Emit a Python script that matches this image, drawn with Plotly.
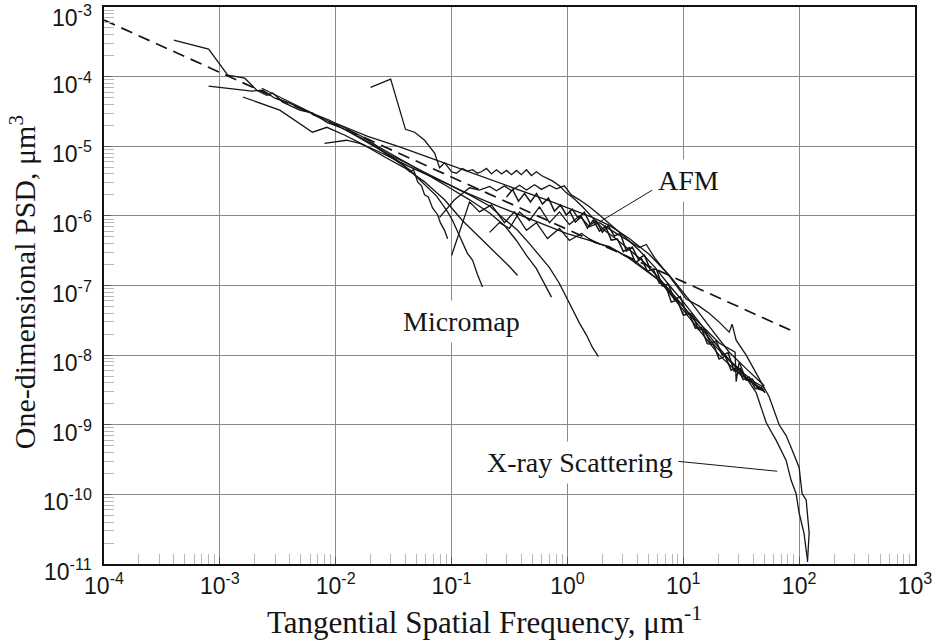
import math
import plotly.graph_objects as go

# ---- power-law fit (dashed) ----
fit_x = [1e-4, 94]
fit_y = [6.5e-4, 2.1e-8]

# ---- Micromap profiles ----
mm1_x = [4.0e-4, 8.0e-4, 1.17e-3, 1.64e-3, 2.08e-3, 2.54e-3, 2.86e-3, 3.49e-3, 4.89e-3, 6.3e-3,
         8.4e-3, 1.15e-2, 1.61e-2, 2.26e-2, 3.1e-2, 3.93e-2, 4.35e-2, 4.7e-2, 5.1e-2, 5.5e-2,
         5.85e-2, 6.3e-2, 6.85e-2, 7.6e-2, 8.0e-2, 8.7e-2, 9.25e-2]
mm1_y = [3.35e-4, 2.48e-4, 1.05e-4, 9.5e-5, 6.4e-5, 5.4e-5, 5.8e-5, 4.3e-5, 3.3e-5, 3.0e-5,
         2.2e-5, 1.8e-5, 1.35e-5, 9.8e-6, 7.0e-6, 5.23e-6, 4.3e-6, 4.6e-6, 3.08e-6, 2.7e-6,
         2.0e-6, 1.87e-6, 1.3e-6, 1.03e-6, 8.0e-7, 6.2e-7, 4.7e-7]

mm2_x = [8.0e-4, 1.89e-3, 2.35e-3, 2.98e-3, 4.0e-3, 5.4e-3, 7.28e-3, 9.8e-3, 1.32e-2, 1.78e-2,
         2.4e-2, 3.23e-2, 4.35e-2, 5.3e-2, 6.46e-2, 7.4e-2, 8.4e-2, 9.25e-2, 1.02e-1, 1.13e-1,
         1.24e-1, 1.37e-1, 1.52e-1, 1.67e-1, 1.85e-1]
mm2_y = [7.3e-5, 6.2e-5, 6.4e-5, 4.9e-5, 4.15e-5, 3.3e-5, 2.6e-5, 2.07e-5, 1.59e-5, 1.18e-5,
         8.9e-6, 6.4e-6, 4.6e-6, 3.3e-6, 2.36e-6, 1.94e-6, 1.44e-6, 1.14e-6, 8.6e-7, 5.9e-7,
         4.3e-7, 2.9e-7, 2.3e-7, 1.45e-7, 9.5e-8]

mm3_x = [1.58e-3, 3.29e-3, 6.3e-3, 8.4e-3, 1.2e-2, 1.78e-2, 2.65e-2, 3.93e-2, 5.85e-2, 8.7e-2,
         1.24e-1, 1.58e-1, 2.13e-1, 2.59e-1, 3.16e-1, 3.71e-1]
mm3_y = [5.1e-5, 3.3e-5, 1.59e-5, 1.87e-5, 1.44e-5, 1.03e-5, 7.0e-6, 4.9e-6, 3.08e-6, 1.7e-6,
         8.6e-7, 5.8e-7, 3.5e-7, 2.6e-7, 1.87e-7, 1.39e-7]

mm4_x = [2.3e-3, 3.29e-3, 4.7e-3, 6.59e-3, 8.87e-3, 1.24e-2, 1.67e-2, 2.3e-2, 3.23e-2, 4.52e-2,
         6.46e-2, 9.6e-2, 1.43e-1, 2.13e-1, 2.86e-1, 3.63e-1, 4.43e-1, 5.4e-1, 6.34e-1, 7.28e-1]
mm4_y = [6.8e-5, 5.1e-5, 3.76e-5, 2.88e-5, 2.36e-5, 1.8e-5, 1.39e-5, 1.0e-5, 7.3e-6, 5.23e-6,
         3.76e-6, 2.53e-6, 1.7e-6, 1.1e-6, 7.3e-7, 4.43e-7, 2.7e-7, 1.75e-7, 1.07e-7, 6.8e-8]

mm5_x = [8.0e-3, 1.24e-2, 1.61e-2, 2.17e-2, 3.04e-2, 4.35e-2, 6.46e-2, 9.6e-2, 1.43e-1, 2.13e-1,
         2.75e-1, 3.71e-1, 4.7e-1, 5.74e-1, 7.0e-1, 8.53e-1, 9.8e-1, 1.15, 1.27, 1.46, 1.64, 1.85]
mm5_y = [1.1e-5, 1.22e-5, 1.1e-5, 8.9e-6, 6.8e-6, 5.06e-6, 3.76e-6, 2.79e-6, 2.0e-6, 1.39e-6,
         9.5e-7, 6.2e-7, 4.0e-7, 2.7e-7, 1.81e-7, 1.07e-7, 6.8e-8, 4.15e-8, 2.88e-8, 1.94e-8,
         1.3e-8, 9.5e-9]

# ---- AFM profiles ----
afm1_x = [2.0e-2, 2.98e-2, 4.0e-2, 4.8e-2, 5.85e-2, 7.14e-2, 7.88e-2, 8.7e-2, 0.1, 0.11,
          0.124, 0.137, 0.152, 0.167, 0.181, 0.2, 0.221, 0.244, 0.27, 0.298,
          0.329, 0.363, 0.4, 0.443, 0.489, 0.54, 0.596, 0.659, 0.74, 0.853,
          0.98, 1.15, 1.35, 1.64, 2.08, 2.54, 3.23, 4.43, 6.21, 7.88,
          10, 12.4, 15.2, 18.5, 22.6, 27.5, 33.5, 40.9, 50]
afm1_y = [7.0e-5, 9.2e-5, 1.75e-5, 1.59e-5, 1.22e-5, 8.0e-6, 4.9e-6, 5.8e-6, 4.3e-6, 4.1e-6,
          4.8e-6, 4.4e-6, 4.6e-6, 4.1e-6, 4.3e-6, 4.8e-6, 4.0e-6, 4.6e-6, 4.0e-6, 4.5e-6,
          3.9e-6, 4.5e-6, 3.9e-6, 4.6e-6, 3.8e-6, 4.3e-6, 3.8e-6, 3.51e-6, 3.18e-6, 2.7e-6,
          2.14e-6, 1.75e-6, 1.35e-6, 9.5e-7, 6.2e-7, 4.9e-7, 3.5e-7, 2.29e-7, 1.26e-7, 8.0e-8,
          5.06e-8, 3.18e-8, 2.14e-8, 1.39e-8, 9.8e-9, 7.0e-9, 5.06e-9, 3.88e-9, 3.18e-9]

afm2_x = [7.88e-2, 1.06e-1, 1.43e-1, 1.74e-1, 2.13e-1, 2.44e-1, 2.86e-1, 3.29e-1, 3.86e-1, 4.43e-1,
          5.2e-1, 5.96e-1, 7.0e-1, 8.03e-1, 9.4e-1, 1.08, 1.27, 1.55, 1.89, 2.4,
          3.1, 4.18, 5.62, 7.6, 10, 13.7, 18.5, 24.9, 33.5, 40.9, 50]
afm2_y = [9.5e-7, 1.7e-6, 2.53e-6, 2.35e-6, 2.65e-6, 2.3e-6, 2.7e-6, 2.3e-6, 2.75e-6, 2.35e-6,
          2.8e-6, 2.4e-6, 2.75e-6, 2.45e-6, 2.7e-6, 2.0e-6, 1.7e-6, 1.35e-6, 1.03e-6, 7.3e-7,
          5.06e-7, 3.18e-7, 1.87e-7, 1.0e-7, 5.8e-8, 2.98e-8, 1.54e-8, 8.6e-9, 5.4e-9, 4.15e-9, 3.4e-9]

afm3_x = [1.0e-2, 1.89e-2, 3.56e-2, 9.6e-2, 2.59e-1, 7.0e-1, 1.64, 2.3, 3.42, 5.1,
          7.6, 11.3, 16.7, 24.9, 37.1, 50]
afm3_y = [2.14e-5, 1.39e-5, 9.8e-6, 5.4e-6, 2.98e-6, 1.64e-6, 9.5e-7, 7.3e-7, 4.73e-7, 2.79e-7,
          1.39e-7, 6.17e-8, 2.6e-8, 1.1e-8, 5.8e-9, 3.63e-9]

afm4_x = [2.4e-2, 5.3e-2, 1.17e-1, 2.59e-1, 5.74e-1, 9.8e-1, 1.55, 2.44, 3.78, 6.21,
          10, 13.7, 20.4, 30.4, 50]
afm4_y = [8.9e-6, 4.6e-6, 2.36e-6, 1.35e-6, 8.0e-7, 5.6e-7, 4.43e-7, 3.4e-7, 2.29e-7, 1.18e-7,
          4.43e-8, 2.29e-8, 1.0e-8, 5.4e-9, 2.98e-9]

afm5_x = [0.298, 0.336, 0.378, 0.426, 0.48, 0.541, 0.608, 0.685, 0.773, 0.871,
          0.98, 1.10, 1.24, 1.40, 1.58, 1.78, 2.0, 2.25, 2.54, 2.86,
          3.23, 3.63, 4.09, 4.61, 5.2, 5.85, 6.59, 7.43, 8.36, 9.42,
          10.6, 12.0, 13.5, 15.2, 17.1, 19.2, 21.7, 24.4, 27.5, 31.0,
          34.9, 39.4, 44.4, 49.9]
afm5_y = [1.86e-6, 2.39e-6, 1.63e-6, 2.09e-6, 1.58e-6, 2.09e-6, 1.48e-6, 1.80e-6, 1.17e-6, 1.43e-6,
          1.03e-6, 1.25e-6, 9.3e-7, 1.13e-6, 7.5e-7, 8.4e-7, 5.85e-7, 7.26e-7, 5.13e-7, 5.6e-7,
          3.12e-7, 3.56e-7, 2.39e-7, 2.73e-7, 1.69e-7, 1.72e-7, 9.8e-8, 1.05e-7, 6.27e-8, 6.93e-8,
          4.08e-8, 3.88e-8, 2.32e-8, 2.36e-8, 1.49e-8, 1.59e-8, 1.0e-8, 1.08e-8, 5.89e-9, 6.5e-9,
          4.38e-9, 4.52e-9, 3.25e-9, 3.1e-9]

afm6_x = [1.04, 1.17, 1.32, 1.49, 1.67, 1.89, 2.13, 2.39, 2.70, 3.04,
          3.42, 3.86, 4.35, 4.90, 5.51, 6.21, 7.0, 7.88, 8.87, 10.0,
          11.3, 12.7, 14.3, 16.1, 18.2, 20.4, 23.0, 25.9, 29.2, 32.9,
          37.1, 41.8, 47.0, 50.9]
afm6_y = [1.19e-6, 8.15e-7, 9.77e-7, 6.68e-7, 8.71e-7, 6.05e-7, 7.13e-7, 4.49e-7, 4.65e-7, 3.07e-7,
          3.51e-7, 2.13e-7, 2.43e-7, 1.61e-7, 1.72e-7, 1.08e-7, 1.03e-7, 5.77e-8, 6.17e-8, 3.76e-8,
          3.88e-8, 2.44e-8, 2.48e-8, 1.46e-8, 1.42e-8, 8.77e-9, 9.68e-9, 6.09e-9, 6.73e-9, 4.45e-9,
          4.83e-9, 3.30e-9, 3.41e-9, 2.89e-9]

# ---- X-ray scattering profiles ----
xr1_x = [2.13e-1, 2.59e-1, 3.16e-1, 3.86e-1, 4.7e-1, 5.74e-1, 7.0e-1, 8.53e-1, 1.04, 1.27,
         1.55, 1.89, 2.4, 3.1, 4.18, 4.8, 5.62, 7.6, 10.6, 13.7,
         16.7, 20.4, 24.9, 26.4, 28.6, 34.9, 45.2, 55.1, 67.2, 77.2,
         85.3, 100, 106, 115, 122, 120, 118]
xr1_y = [5.8e-7, 8.0e-7, 6.6e-7, 1.14e-6, 8.6e-7, 1.35e-6, 8.0e-7, 1.14e-6, 7.5e-7, 1.0e-6,
         7.0e-7, 8.0e-7, 6.2e-7, 4.73e-7, 3.5e-7, 3.88e-7, 2.53e-7, 1.35e-7, 6.4e-8, 5.06e-8,
         4.0e-8, 2.98e-8, 2.14e-8, 2.79e-8, 1.64e-8, 1.0e-8, 4.6e-9, 2.53e-9, 1.0e-9, 7.0e-10,
         4.73e-10, 2.44e-10, 1.03e-10, 8.3e-11, 2.79e-11, 1.59e-11, 1.07e-11]

xr2_x = [0.1, 1.43e-1, 1.74e-1, 2.21e-1, 2.86e-1, 3.49e-1, 4.43e-1, 5.4e-1, 6.72e-1, 8.53e-1,
         1.04, 1.32, 1.71, 2.3, 3.42, 6.21, 10.6, 20.4, 28, 28.6,
         30.4, 33.5, 42.6, 52, 63.4, 77.2, 85.3, 94, 100, 110, 118]
xr2_y = [2.7e-7, 1.59e-6, 1.14e-6, 1.44e-6, 8.0e-7, 1.14e-6, 6.2e-7, 8.0e-7, 4.73e-7, 6.6e-7,
         4.43e-7, 5.6e-7, 4.15e-7, 3.63e-7, 2.44e-7, 1.18e-7, 4.43e-8, 1.49e-8, 1.1e-8, 4.15e-9,
         8.0e-9, 5.23e-9, 2.88e-9, 1.07e-9, 5.97e-10, 3.08e-10, 1.59e-10, 1.03e-10, 5.4e-11, 2.79e-11, 1.14e-11]

# ---- labels and leader lines ----
afm_leader_x = [5.41, 1.89]
afm_leader_y = [2.35e-6, 8.15e-7]
xray_leader_x = [8.71, 64.6]
xray_leader_y = [3.0e-10, 2.15e-10]

labels = [
    # text, x, y, xanchor
    ("AFM", 11.0, 3.2e-6, "center"),
    ("Micromap", 0.122, 3.0e-8, "center"),
    ("X-ray Scattering", 9.2, 2.9e-10, "right"),
]

x_decades = [1e-4, 1e-3, 1e-2, 1e-1, 1e0, 1e1, 1e2, 1e3]
x_ticktext = ["10<sup>-4</sup>", "10<sup>-3</sup>", "10<sup>-2</sup>", "10<sup>-1</sup>",
              "10<sup>0</sup>", "10<sup>1</sup>", "10<sup>2</sup>", "10<sup>3</sup>"]
y_decades = [1e-11, 1e-10, 1e-9, 1e-8, 1e-7, 1e-6, 1e-5, 1e-4, 1e-3]
y_ticktext = ["10<sup>-11</sup>", "10<sup>-10</sup>", "10<sup>-9</sup>", "10<sup>-8</sup>",
              "10<sup>-7</sup>", "10<sup>-6</sup>", "10<sup>-5</sup>", "10<sup>-4</sup>",
              "10<sup>-3</sup>"]

x_title = "Tangential Spatial Frequency, μm<sup>-1</sup>"
y_title = "One-dimensional PSD, μm<sup>3</sup>"

INK = "#151515"
SERIF = "Liberation Serif, Times New Roman, serif"
SANS = "Liberation Sans, Arial, sans-serif"

fig = go.Figure()


def add_line(x, y, width=1.3, dash=None):
    fig.add_trace(go.Scatter(
        x=x, y=y, mode="lines",
        line=dict(color=INK, width=width, dash=dash),
        hoverinfo="skip", showlegend=False,
    ))


for xs, ys in [(mm1_x, mm1_y), (mm2_x, mm2_y), (mm3_x, mm3_y), (mm4_x, mm4_y), (mm5_x, mm5_y),
               (afm1_x, afm1_y), (afm2_x, afm2_y), (afm3_x, afm3_y), (afm4_x, afm4_y),
               (xr1_x, xr1_y), (xr2_x, xr2_y)]:
    add_line(xs, ys)
for xs, ys in [(afm5_x, afm5_y), (afm6_x, afm6_y)]:
    add_line(xs, ys, width=1.5)

add_line(fit_x, fit_y, width=1.7, dash="12px,7px")
add_line(afm_leader_x, afm_leader_y, width=1)
add_line(xray_leader_x, xray_leader_y, width=1)

for text, lx, ly, anchor in labels:
    fig.add_annotation(
        x=math.log10(lx), y=math.log10(ly), xref="x", yref="y",
        text=text, showarrow=False, xanchor=anchor, yanchor="middle",
        font=dict(family=SERIF, size=28, color=INK),
        bgcolor="white", borderpad=5,
    )

# y-axis decade labels, set just left of the frame; the top one is nudged
# down a little more so it stays inside the page
for val, txt in zip(y_decades, y_ticktext):
    shift = -9 if val == y_decades[-1] else -6
    fig.add_annotation(
        x=-0.013, y=math.log10(val), xref="paper", yref="y",
        text=txt, showarrow=False, xanchor="right", yanchor="middle", yshift=shift,
        font=dict(family=SANS, size=23, color=INK), borderpad=0,
    )

# axis titles
fig.add_annotation(
    x=0.4686, y=-0.102, xref="paper", yref="paper", text=x_title, showarrow=False,
    xanchor="center", yanchor="middle", font=dict(family=SERIF, size=31, color=INK),
)
fig.add_annotation(
    x=-0.0999, y=0.506, xref="paper", yref="paper", text=y_title, showarrow=False,
    textangle=-90, xanchor="center", yanchor="middle",
    font=dict(family=SERIF, size=30, color=INK),
)

minor_x = [k * d for d in x_decades[:-1] for k in range(2, 10)]
minor_y = [k * d for d in y_decades[:-1] for k in range(2, 10)]

axis_common = dict(
    type="log",
    showgrid=True, gridcolor="#8a8a8a", gridwidth=1,
    showline=True, linecolor="#111111", linewidth=2, mirror=True,
    ticks="inside", ticklen=7, tickcolor="#555555", tickwidth=1,
    tickfont=dict(family=SANS, size=23, color=INK),
    zeroline=False,
    automargin=False,
)

fig.update_xaxes(
    **axis_common,
    range=[-4, 3],
    tickmode="array", tickvals=x_decades, ticktext=x_ticktext,
    ticklabeloverflow="allow",
    minor=dict(tickmode="array", tickvals=minor_x, ticks="inside", ticklen=10,
               tickcolor="#b8b8b8", tickwidth=1, showgrid=False),
)
fig.update_yaxes(
    **axis_common,
    range=[-11, -3],
    tickmode="array", tickvals=y_decades, showticklabels=False,
    minor=dict(tickmode="array", tickvals=minor_y, ticks="inside", ticklen=10,
               tickcolor="#b8b8b8", tickwidth=1, showgrid=False),
)

fig.update_layout(
    width=933, height=642,
    margin=dict(l=104, r=18, t=7, b=78),
    paper_bgcolor="white", plot_bgcolor="white",
    showlegend=False,
)

fig.write_html("out.html")
